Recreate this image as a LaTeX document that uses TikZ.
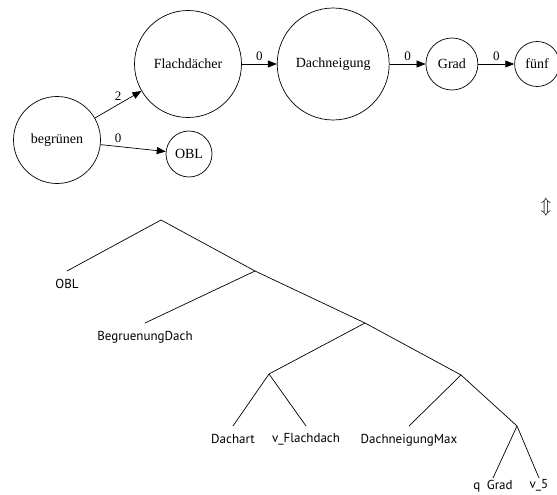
\documentclass[tikz,border=0pt]{standalone}
\usepackage{fontspec}
\setmainfont{Liberation Serif}
\newfontfamily\treefont{PT Sans}
\usetikzlibrary{positioning,arrows.meta}
\tikzset{main node/.style={circle,draw,inner sep=0pt,font=\fontsize{14}{16}\selectfont},
  leaf/.style={anchor=north,inner xsep=0pt,inner ysep=7.5pt,font=\treefont\fontsize{13}{15}\selectfont},}

\begin{document}
\begin{tikzpicture}[x=1pt,y=-1pt,line width=0.7pt]
      \useasboundingbox (0,0) rectangle (557,495);
      \node[main node,minimum size=87pt] (begr) at (57,140) {begrünen};
      \node[main node,minimum size=107pt] (flach) at (188,64) {Flachdächer};
      \node[main node,minimum size=112pt] (dach) [right=35pt of flach] {Dachneigung};
      \node[main node,minimum size=52pt] (grad) [right=36pt of dach] {Grad};
      \node[main node,minimum size=45pt] (fuenf) [right=36pt of grad] {fünf};
      \node[main node,minimum size=46pt] (obl) at (189,154) {OBL};

      \path[draw][-{Triangle[length=9pt,width=7pt]}]
        (begr) edge node[above,pos=.5,font=\fontsize{13}{15}\selectfont] {2} (flach)
        (begr) edge node[above,pos=.27,font=\fontsize{13}{15}\selectfont] {0} (obl)
        (flach) edge node[above,font=\fontsize{13}{15}\selectfont] {0} (dach)
        (dach) edge node[above,font=\fontsize{13}{15}\selectfont] {0} (grad)
        (grad) edge node[above,font=\fontsize{13}{15}\selectfont] {0} (fuenf);

      \node (equiv) at (546,207) {\fontsize{17}{19}\selectfont$\Updownarrow$};

      % tree
      \coordinate (t0) at (161,220);
      \coordinate (t1) at (255,271);
      \coordinate (t2) at (365,323);
      \coordinate (t3) at (269,374);
      \coordinate (t4) at (461,375);
      \coordinate (t5) at (517,426);

      \node[leaf] (l1) at (67,271) {OBL};
      \node[leaf] (l2) at (145,323) {BegruenungDach};
      \node[leaf] (l3) at (233,426) {Dachart};
      \node[leaf] (l4) at (306,426) {v\_Flachdach};
      \node[leaf] (l5) at (409,426) {DachneigungMax};
      \node[leaf,inner ysep=1.5pt] (l6) at (493,478) {q\enspace Grad};
      \node[leaf,inner ysep=1.5pt] (l7) at (539,478) {v\_5};

      \draw (t0) -- (l1.north) (t0) -- (t1);
      \draw (t1) -- (l2.north) (t1) -- (t2);
      \draw (t2) -- (t3) (t2) -- (t4);
      \draw (t3) -- (l3.north) (t3) -- (l4.north);
      \draw (t4) -- (l5.north) (t4) -- (t5);
      \draw (t5) -- (l6.north) (t5) -- (l7.north);

    \end{tikzpicture}
\end{document}
